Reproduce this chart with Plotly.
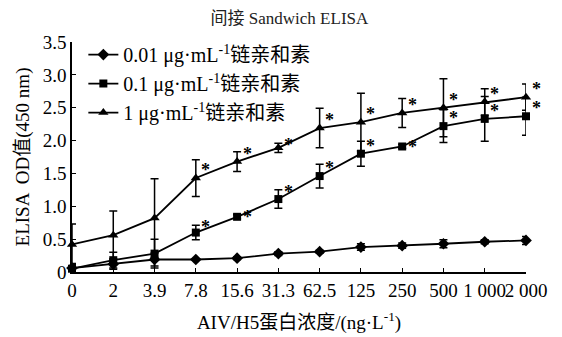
import plotly.graph_objects as go

# Concentration categories on the x axis
concentrations = ["0", "2", "3.9", "7.8", "15.6", "31.3", "62.5", "125", "250", "500", "1 000", "2 000"]

# OD450 means and standard deviations for each streptavidin concentration
od_001 = [0.06, 0.12, 0.19, 0.19, 0.21, 0.28, 0.31, 0.38, 0.40, 0.43, 0.46, 0.48]
sd_001 = [0.05, 0.08, 0.10, 0.01, 0.02, 0.03, 0.02, 0.05, 0.04, 0.06, 0.03, 0.06]

od_01 = [0.05, 0.18, 0.28, 0.60, 0.84, 1.11, 1.46, 1.80, 1.91, 2.22, 2.33, 2.37]
sd_01 = [0.08, 0.12, 0.22, 0.11, 0.03, 0.14, 0.18, 0.19, 0.03, 0.25, 0.34, 0.29]

od_1 = [0.42, 0.56, 0.82, 1.43, 1.68, 1.89, 2.19, 2.28, 2.42, 2.50, 2.59, 2.66]
sd_1 = [0.31, 0.37, 0.60, 0.28, 0.15, 0.07, 0.30, 0.44, 0.22, 0.44, 0.20, 0.20]

# Significance marks (*) for the 0.1 and 1 μg/mL series
sig_01 = [False, False, False, True, True, True, True, True, True, True, True, True]
sig_1 = [False, False, False, True, True, True, True, True, True, True, True, True]

y_ticks = [0, 0.5, 1.0, 1.5, 2.0, 2.5, 3.0, 3.5]
y_ticktext = ["0", "0.5", "1.0", "1.5", "2.0", "2.5", "3.0", "3.5"]

FONT = "Liberation Serif, Times New Roman, Noto Sans CJK SC, serif"
xpos = list(range(len(concentrations)))

series = [
    ("0.01 μg·mL<sup>-1</sup>链亲和素", od_001, sd_001, "diamond", 9),
    ("0.1 μg·mL<sup>-1</sup>链亲和素", od_01, sd_01, "square", 8),
    ("1 μg·mL<sup>-1</sup>链亲和素", od_1, sd_1, "triangle-up", 9),
]

fig = go.Figure()
for i, (name, vals, errs, sym, size) in enumerate(series):
    fig.add_trace(go.Scatter(
        x=xpos, y=vals, name=name, mode="lines+markers",
        legendgroup=f"g{i}",
        line=dict(color="black", width=1.8),
        marker=dict(symbol=sym, size=size, color="black"),
        error_y=dict(type="data", array=errs, visible=True,
                     color="black", thickness=1.5, width=4),
        cliponaxis=False,
    ))

# Asterisks beside the significant points, sitting near the top of the
# error bar but never far above the point itself
annotations = []
for vals, errs, sig in [(od_01, sd_01, sig_01), (od_1, sd_1, sig_1)]:
    for x, v, e, s in zip(xpos, vals, errs, sig):
        if s:
            annotations.append(dict(
                x=x, y=v + min(e, 0.15), text="<b>*</b>", showarrow=False,
                xshift=10, yshift=-2, xanchor="center", yanchor="middle",
                font=dict(family=FONT, size=18, color="black"),
            ))

fig.update_layout(
    width=562, height=337,
    margin=dict(l=72, r=36, t=42, b=65),
    paper_bgcolor="white", plot_bgcolor="white",
    font=dict(family=FONT, size=19, color="black"),
    title=dict(text="间接 Sandwich ELISA", x=0.515, xanchor="center",
               y=0.945, yanchor="middle",
               font=dict(family=FONT, size=17, color="#222")),
    showlegend=True,
    legend=dict(x=0.025, y=1.03, xanchor="left", yanchor="top",
                bgcolor="rgba(0,0,0,0)", tracegroupgap=0,
                itemwidth=30, font=dict(family=FONT, size=20, color="black")),
    annotations=annotations,
)

fig.update_xaxes(
    range=[0, len(concentrations) - 1],
    tickmode="array", tickvals=xpos, ticktext=concentrations,
    tickangle=0, automargin=False,
    ticks="inside", ticklen=4, tickwidth=1.2, tickcolor="black",
    showline=True, linecolor="black", linewidth=1.5,
    showgrid=False, zeroline=False,
    tickfont=dict(family=FONT, size=19, color="black"),
    title=dict(text="AIV/H5蛋白浓度/(ng·L<sup>-1</sup>)", standoff=16,
               font=dict(family=FONT, size=19, color="black")),
)
fig.update_yaxes(
    range=[0, 3.5], automargin=False,
    tickmode="array", tickvals=y_ticks, ticktext=y_ticktext,
    ticks="inside", ticklen=4, tickwidth=1.2, tickcolor="black",
    showline=True, linecolor="black", linewidth=1.5,
    showgrid=False, zeroline=False,
    tickfont=dict(family=FONT, size=19, color="black"),
    title=dict(text="ELISA  OD值(450 nm)", standoff=8,
               font=dict(family=FONT, size=19, color="black")),
)

fig.write_html("out.html")
